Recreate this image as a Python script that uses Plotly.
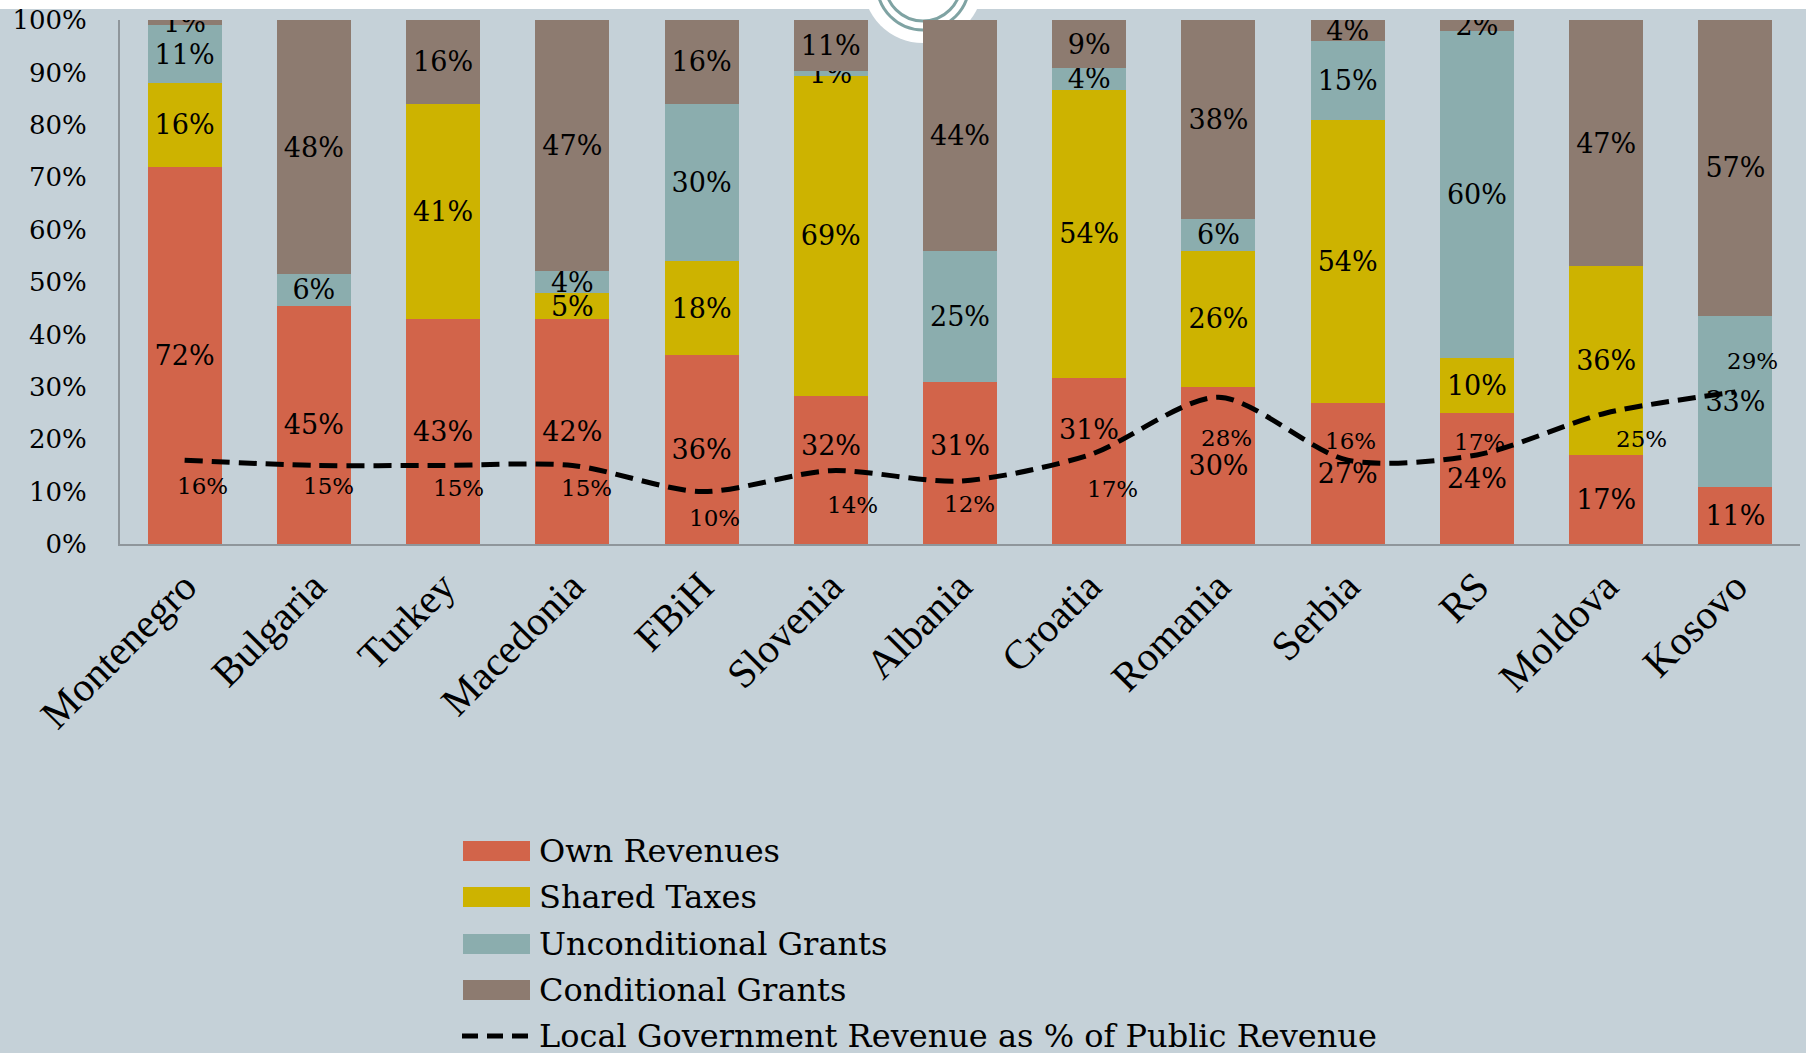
import plotly.graph_objects as go

# ---------------- data ----------------
categories = ["Montenegro", "Bulgaria", "Turkey", "Macedonia", "FBiH", "Slovenia",
              "Albania", "Croatia", "Romania", "Serbia", "RS", "Moldova", "Kosovo"]
own_revenues = [72, 45, 43, 42, 36, 32, 31, 31, 30, 27, 24, 17, 11]
shared_taxes = [16, 0, 41, 5, 18, 69, 0, 54, 26, 54, 10, 36, 0]
unconditional_grants = [11, 6, 0, 4, 30, 1, 25, 4, 6, 15, 60, 0, 33]
conditional_grants = [1, 48, 16, 47, 16, 11, 44, 9, 38, 4, 2, 47, 57]
local_gov_share = [16, 15, 15, 15, 10, 14, 12, 17, 28, 16, 17, 25, 29]
y_tick_values = [0, 10, 20, 30, 40, 50, 60, 70, 80, 90, 100]

series_names = ["Own Revenues", "Shared Taxes", "Unconditional Grants", "Conditional Grants"]
line_name = "Local Government Revenue as % of Public Revenue"

# ---------------- styles ----------------
colors = ["#D2644A", "#CDB300", "#8BADAE", "#8D7B70"]
BG = "#C5D1D8"
AXIS = "#8F969B"
GEORGIA_LIKE = "DejaVu Serif"
TIMES_LIKE = "Liberation Serif"
# pixel offsets (dx right, dy down) of the line's value labels from their points
line_label_offsets = [(18, 26), (15, 21), (15, 23), (14, 23), (13, 26), (22, 34), (9, 23),
                      (23, 34), (8, 41), (3, -19), (3, -13), (35, 26), (17, -31)]
# own-revenue labels lifted (in px) off the line, as in the original slide
own_label_lift = [0, 0, 0, 0, 0, 24, 17, 32, 0, 0, 0, 0, 0]

W, H = 1806, 1053
PL, PR, PT, PB = 120, 1800, 20, 544


def px(x):
    return (x - PL) / (PR - PL)


def py(y):
    return (PB - y) / (PB - PT)


fig = go.Figure()
series_values = [own_revenues, shared_taxes, unconditional_grants, conditional_grants]
totals = [sum(v) for v in zip(*series_values)]

annotations = []
for k, (name, vals, col) in enumerate(zip(series_names, series_values, colors)):
    texts = []
    for i, v in enumerate(vals):
        if not v:
            texts.append("")
        elif k == 0 and own_label_lift[i]:
            texts.append("")
            annotations.append(dict(x=categories[i], y=v / totals[i] * 50, yshift=own_label_lift[i],
                                    text=f"{v}%", showarrow=False, xanchor="center", yanchor="middle",
                                    font=dict(family=GEORGIA_LIKE, size=27, color="black")))
        else:
            texts.append(f"{v}%")
    fig.add_trace(go.Bar(
        x=categories, y=vals, name=name,
        marker=dict(color=col, line=dict(width=0)),
        text=texts,
        textposition="inside", insidetextanchor="middle", textangle=0,
        constraintext="none",
        insidetextfont=dict(family=GEORGIA_LIKE, size=27, color="black"),
        showlegend=False, hoverinfo="skip",
    ))

fig.add_trace(go.Scatter(
    x=categories, y=local_gov_share, name=line_name,
    mode="lines",
    line=dict(color="black", width=5, dash="18px,9px", shape="spline", smoothing=0.8),
    showlegend=False, hoverinfo="skip",
))
for c, v, (dx, dy) in zip(categories, local_gov_share, line_label_offsets):
    annotations.append(dict(x=c, y=v, xshift=dx, yshift=-dy, text=f"{v}%", showarrow=False,
                            xanchor="center", yanchor="middle",
                            font=dict(family=GEORGIA_LIKE, size=23, color="black")))

shapes = [
    # white top band and decorative circle of the slide
    dict(type="rect", xref="paper", yref="paper", x0=px(-10), x1=px(W + 10), y0=py(9), y1=py(-10),
         fillcolor="white", line=dict(width=0), layer="below"),
    dict(type="circle", xref="paper", yref="paper", x0=px(863), x1=px(983), y0=py(43), y1=py(-77),
         fillcolor="white", line=dict(width=0), layer="below"),
    dict(type="circle", xref="paper", yref="paper", x0=px(877), x1=px(969), y0=py(30), y1=py(-62),
         line=dict(color="#7FA3A3", width=3), layer="below"),
    dict(type="circle", xref="paper", yref="paper", x0=px(885), x1=px(961), y0=py(21), y1=py(-55),
         line=dict(color="#7FA3A3", width=3), layer="below"),
]

# custom legend
leg_rows = [851, 897, 944, 990, 1036]
for i, (name, col) in enumerate(zip(series_names, colors)):
    yc = leg_rows[i]
    shapes.append(dict(type="rect", xref="paper", yref="paper",
                       x0=px(463), x1=px(530), y0=py(yc + 10), y1=py(yc - 10),
                       fillcolor=col, line=dict(width=0)))
    annotations.append(dict(xref="paper", yref="paper", x=px(537), y=py(yc), text=name,
                            showarrow=False, xanchor="left", yanchor="middle",
                            font=dict(family=GEORGIA_LIKE, size=32, color="black")))
yc = leg_rows[4]
shapes.append(dict(type="line", xref="paper", yref="paper", x0=px(462), x1=px(528), y0=py(yc), y1=py(yc),
                   line=dict(color="black", width=5, dash="16px,9px")))
annotations.append(dict(xref="paper", yref="paper", x=px(537), y=py(yc), text=line_name,
                        showarrow=False, xanchor="left", yanchor="middle",
                        font=dict(family=GEORGIA_LIKE, size=32, color="black")))

fig.update_layout(
    width=W, height=H,
    margin=dict(l=PL, r=W - PR, t=PT, b=H - PB, pad=0),
    paper_bgcolor=BG, plot_bgcolor="rgba(0,0,0,0)",
    barmode="stack", barnorm="percent", bargap=0.427,
    uniformtext=dict(minsize=27, mode="show"),
    showlegend=False,
    shapes=shapes, annotations=annotations,
    xaxis=dict(range=[-0.5, len(categories) - 0.5], showline=True, linecolor=AXIS, linewidth=2,
               showgrid=False, zeroline=False, tickangle=-45, ticks="",
               tickfont=dict(family=TIMES_LIKE, size=41, color="black")),
    yaxis=dict(range=[0, 100], tickmode="array", tickvals=y_tick_values,
               ticktext=[f"{v}%" for v in y_tick_values],
               showline=True, linecolor=AXIS, linewidth=2, showgrid=False, zeroline=False,
               ticks="outside", ticklen=26, tickcolor="rgba(0,0,0,0)",
               tickfont=dict(family=GEORGIA_LIKE, size=26, color="black")),
)

fig.write_html("out.html", config={"displayModeBar": False},
               post_script="document.body.style.margin='0';document.body.style.overflow='hidden';")
